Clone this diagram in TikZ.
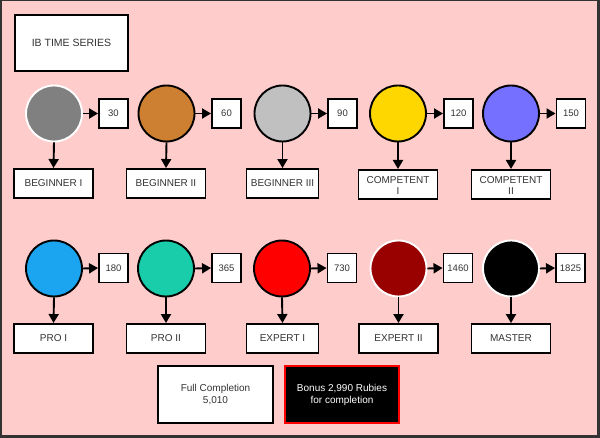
\documentclass[tikz,border=0pt]{standalone}
\usepackage{fontspec}
\setmainfont{Liberation Sans}
\usetikzlibrary{arrows.meta}
\definecolor{bgpink}{HTML}{FFCCCC}
\definecolor{frame}{HTML}{333333}
\definecolor{txt}{HTML}{333333}
\definecolor{cgray}{HTML}{808080}
\definecolor{cbrown}{HTML}{CD8032}
\definecolor{csilver}{HTML}{C0C0C0}
\definecolor{cyellow}{HTML}{FFD700}
\definecolor{cviolet}{HTML}{7570FF}
\definecolor{cblue}{HTML}{1BA5F0}
\definecolor{cteal}{HTML}{19CCAA}
\definecolor{cred}{HTML}{FF0000}
\definecolor{cdred}{HTML}{990000}
\definecolor{cblack}{HTML}{000000}
\begin{document}
\begin{tikzpicture}[x=1pt,y=-1pt,
  rank/.style={circle,minimum size=56pt,inner sep=0pt,line width=1.9pt,draw=black,fill=#1},
  rankw/.style={circle,minimum size=56pt,inner sep=0pt,line width=1.9pt,draw=white,fill=#1},
  numbox/.style={draw=black,fill=white,line width=1.9pt,minimum width=29pt,minimum height=29pt,inner sep=0pt,font=\fontsize{9.5}{10}\selectfont,text=txt},
  labbox/.style={draw=black,fill=white,line width=1.9pt,minimum width=#1,minimum height=29pt,inner sep=0pt,font=\fontsize{10}{11}\selectfont,text=txt,align=center},
  labbox/.default=79pt,
  conn/.style={line width=1.9pt,-{Triangle[length=9pt,width=10pt]}}
]
\useasboundingbox (0,0) rectangle (600,438);
\fill[frame] (0,0) rectangle (600,438);
\fill[bgpink] (2,1) rectangle (597,435);

\node[draw=black,fill=white,line width=1.9pt,minimum width=113pt,minimum height=56pt,inner sep=0pt,font=\fontsize{10.5}{12}\selectfont,text=txt] (title) at (71.5,43) {IB TIME SERIES};

% row 1
\node[rankw=cgray] (c1) at (54,113.5) {};
\node[rank=cbrown] (c2) at (166.5,113.5) {};
\node[rank=csilver] (c3) at (282.5,113.5) {};
\node[rank=cyellow] (c4) at (398,113.5) {};
\node[rank=cviolet] (c5) at (511,113.5) {};

\node[numbox] (n1) at (113.5,113.5) {30};
\node[numbox] (n2) at (226.5,113.5) {60};
\node[numbox] (n3) at (342.5,113.5) {90};
\node[numbox] (n4) at (458.5,113.5) {120};
\node[numbox] (n5) at (571,113.5) {150};

\node[labbox] (l1) at (53.5,183.5) {BEGINNER I};
\node[labbox] (l2) at (166,183.5) {BEGINNER II};
\node[labbox=72pt] (l3) at (282.5,183.5) {BEGINNER III};
\node[labbox,anchor=north] (l4) at (398,169) {\rule{0pt}{9pt}COMPETENT\\I};
\node[labbox,anchor=north] (l5) at (511,169) {\rule{0pt}{9pt}COMPETENT\\II};

% row 2
\node[rank=cblue] (c6) at (54,268.5) {};
\node[rank=cteal] (c7) at (166,268.5) {};
\node[rank=cred] (c8) at (282,268.5) {};
\node[rankw=cdred] (c9) at (398.5,268.5) {};
\node[rankw=cblack] (c10) at (511,268.5) {};

\node[numbox] (n6) at (113.5,268) {180};
\node[numbox] (n7) at (226.5,268) {365};
\node[numbox] (n8) at (342,268) {730};
\node[numbox] (n9) at (458,268) {1460};
\node[numbox] (n10) at (570.5,268) {1825};

\node[labbox] (l6) at (53.5,338.5) {PRO I};
\node[labbox] (l7) at (166,338.5) {PRO II};
\node[labbox=72pt] (l8) at (282.5,338.5) {EXPERT I};
\node[labbox] (l9) at (398.5,338.5) {EXPERT II};
\node[labbox] (l10) at (511,338.5) {MASTER};

\foreach \i in {1,...,10} {
  \draw[conn] (c\i.east) -- (n\i.west);
  \draw[conn] (c\i.south) -- (l\i.north);
}

% bottom
\node[draw=black,fill=white,line width=1.9pt,minimum width=115pt,minimum height=57pt,inner sep=0pt,align=center,font=\fontsize{10}{12}\selectfont,text=txt] (full) at (215.5,394.5) {Full Completion\\5,010};
\node[draw=cred,fill=black,line width=1.9pt,minimum width=114pt,minimum height=57pt,inner sep=0pt,align=center,font=\fontsize{10}{12}\selectfont,text=white] (bonus) at (342,394.5) {Bonus 2,990 Rubies\\for completion};
\end{tikzpicture}
\end{document}
